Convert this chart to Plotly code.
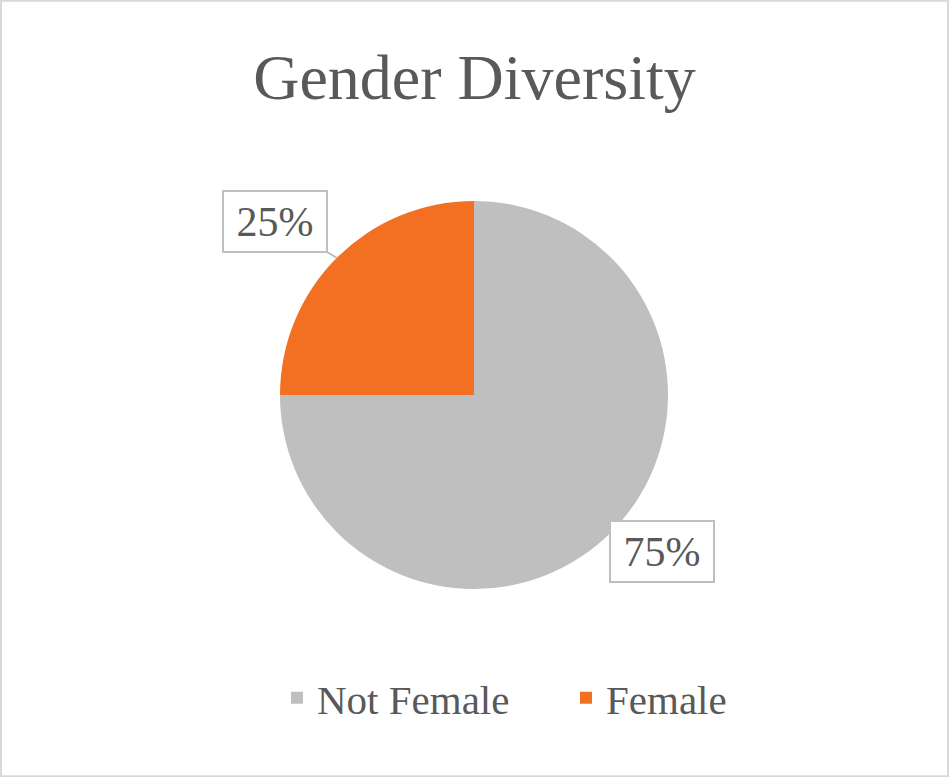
''' Gender diversity pie chart '''
import math
import plotly.graph_objects as go

labels = ['Not Female', 'Female']
values = [75, 25]
colors = ['#BFBFBF', '#F37022']
title = 'Gender Diversity'

W, H = 949, 777
FONT = '"Times New Roman", "Liberation Serif", Tinos, "DejaVu Serif", serif'
TXT = '#595959'

# pie placement in pixels
cx, cy, r = 474, 395, 194


def px_x(x):
    return x / W


def px_y(y):
    return 1 - y / H


fig = go.Figure(go.Pie(
    labels=labels,
    values=values,
    marker=dict(colors=colors, line=dict(width=0)),
    sort=False,
    direction='clockwise',
    rotation=0,
    textinfo='none',
    hoverinfo='label+percent',
    domain=dict(x=[px_x(cx - r), px_x(cx + r)],
                y=[px_y(cy + r), px_y(cy - r)]),
))

# data labels: boxed percentages
total = sum(values)
start = 0.0
annotations = []
label_centers = {'Female': (275, 221), 'Not Female': (662, 551)}
for lab, val in zip(labels, values):
    mid = start + val / total * 360 / 2
    start += val / total * 360
    pct = '{:.0f}%'.format(100 * val / total)
    lx, ly = label_centers[lab]
    box = dict(font=dict(family=FONT, size=42, color=TXT),
               bordercolor='#BFBFBF', borderwidth=2, bgcolor='white',
               width=98, height=55, borderpad=2,
               xref='paper', yref='paper', text=pct)
    if lab == 'Female':
        # leader line to slice edge at mid angle
        ex = cx + r * math.sin(math.radians(mid))
        ey = cy - r * math.cos(math.radians(mid))
        box.update(x=px_x(ex), y=px_y(ey), showarrow=True, arrowhead=0,
                   arrowwidth=2, arrowcolor='#BFBFBF',
                   ax=lx - ex, ay=ly - ey)
    else:
        box.update(x=px_x(lx), y=px_y(ly), showarrow=False,
                   xanchor='center', yanchor='middle')
    annotations.append(box)

fig.update_layout(
    width=W, height=H,
    margin=dict(l=0, r=0, t=0, b=0),
    paper_bgcolor='white',
    font=dict(family=FONT, color=TXT),
    title=dict(text=title, x=0.5, xanchor='center', y=px_y(77),
               yanchor='middle', font=dict(family=FONT, size=64, color=TXT)),
    showlegend=True,
    legend=dict(orientation='h', x=px_x(277), xanchor='left', y=px_y(698),
                yanchor='middle', font=dict(family=FONT, size=41, color=TXT),
                entrywidth=244, entrywidthmode='pixels',
                itemwidth=30, traceorder='normal'),
    annotations=annotations,
    shapes=[dict(type='rect', xref='paper', yref='paper',
                 x0=0.001, x1=0.999, y0=0.001, y1=0.999,
                 line=dict(color='#D9D9D9', width=2))],
)

fig.write_html('out.html', config={'displayModeBar': False},
               post_script="document.body.style.margin='0';")
